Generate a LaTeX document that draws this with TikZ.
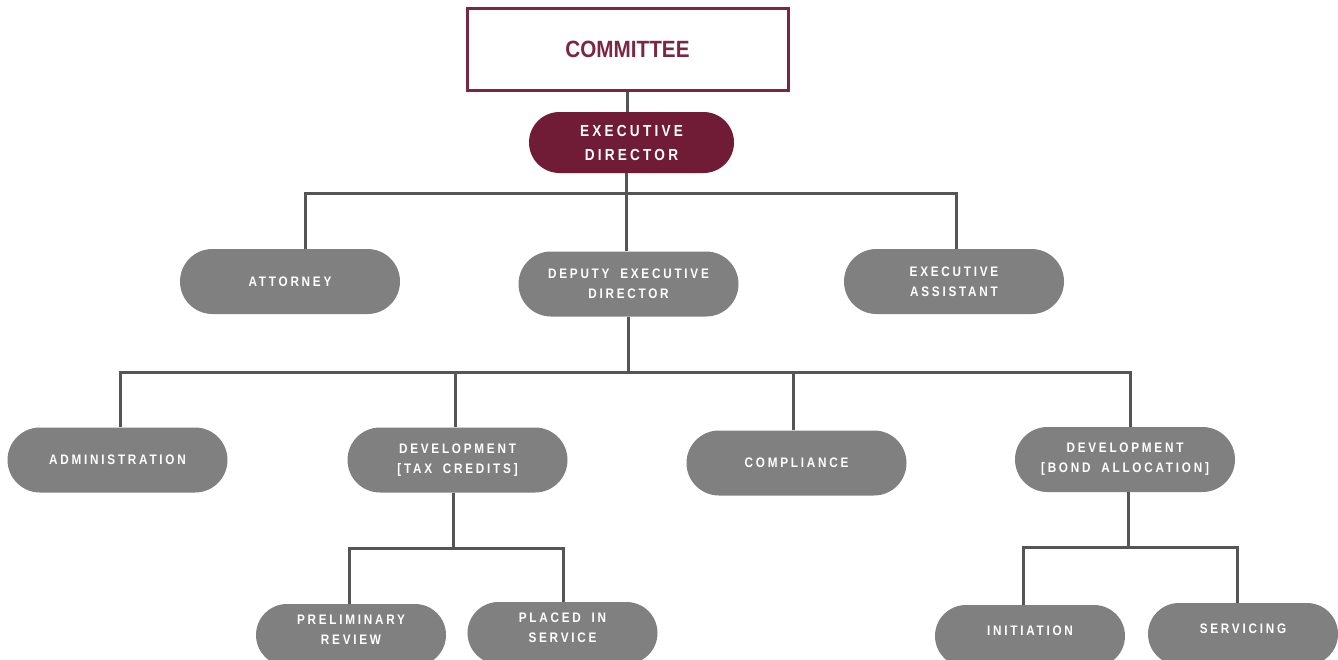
\documentclass[tikz,border=0pt]{standalone}
\usepackage{fontspec}
\usepackage{xcolor}
\usepackage{tikz}
\usetikzlibrary{positioning}
\setmainfont{Liberation Sans}
\newfontfamily\unitfont[LetterSpace=20,FakeStretch=0.85,WordSpace=1.8]{Liberation Sans}
\newfontfamily\boardfont[FakeStretch=0.88]{Liberation Sans}
\definecolor{maroon}{HTML}{701C36}
\definecolor{maroonline}{HTML}{7B2741}
\definecolor{unitgray}{HTML}{808080}
\definecolor{linkgray}{HTML}{555555}

\begin{document}
\begin{tikzpicture}[x=1pt,y=-1pt,
  board/.style={draw=maroonline, line width=3pt, fill=white, minimum width=321, minimum height=82,
    font=\boardfont\bfseries\fontsize{23.5}{26}\selectfont, text=maroonline},
  head/.style={fill=maroon, rounded corners=30.5, minimum width=205, minimum height=61,
    align=center, text=white, font=\unitfont\bfseries\fontsize{16}{24}\selectfont},
  unit/.style={fill=unitgray, rounded corners=32.5, minimum width=220, minimum height=65,
    align=center, text=white, font=\unitfont\bfseries\fontsize{13.8}{20}\selectfont},
  sub/.style={unit, rounded corners=31, minimum width=190, minimum height=62, text depth=11pt},
  link/.style={draw=linkgray, line width=3pt}]
\useasboundingbox (0,0) rectangle (1338,659);
\clip (0,0) rectangle (1338,659);

% Committee and director
\node[board] (com) at (627.5,49) {COMMITTEE};
\node[head] (ed) at (631.5,142.5) {EXECUTIVE\\DIRECTOR};

% Second row
\node[unit] (att) at (290,281.5) {ATTORNEY};
\node[unit] (ded) at (628.5,284) {DEPUTY EXECUTIVE\\DIRECTOR};
\node[unit] (ea) at (954,281.5) {EXECUTIVE\\ASSISTANT};

% Departments
\node[unit] (adm) at (117.5,460) {ADMINISTRATION};
\node[unit] (dtc) at (457.5,460) {DEVELOPMENT\\{[TAX CREDITS]}};
\node[unit] (cmp) at (796.5,463) {COMPLIANCE};
\node[unit] (dba) at (1125,459.5) {DEVELOPMENT\\{[BOND ALLOCATION]}};

% Sections
\node[sub] (pre) at (351,635) {PRELIMINARY\\REVIEW};
\node[sub] (pis) at (562.5,633) {PLACED IN\\SERVICE};
\node[sub] (ini) at (1030,636) {INITIATION};
\node[sub] (ser) at (1243,634) {SERVICING};

% Junctions
\coordinate (j1) at (626,193);
\coordinate (j2) at (628,372);
\coordinate (j3) at (453,548);
\coordinate (j4) at (1128,547);
\coordinate (att-t) at ([xshift=15]att.north);
\coordinate (ea-t) at ([xshift=2]ea.north);
\coordinate (adm-t) at ([xshift=2.5]adm.north);
\coordinate (dtc-t) at ([xshift=-2.5]dtc.north);
\coordinate (cmp-t) at ([xshift=-3.5]cmp.north);
\coordinate (dba-t) at ([xshift=5]dba.north);
\coordinate (pre-t) at ([xshift=-2]pre.north);
\coordinate (pis-t) at ([xshift=0.5]pis.north);
\coordinate (ini-t) at ([xshift=-7]ini.north);
\coordinate (ser-t) at ([xshift=-6]ser.north);

% Connectors
\draw[link] (com.south) -- (com.south |- ed.north);
\draw[link] (ed.south -| j1) -- (j1);
\draw[link] (att-t) |- (j1) -| (ea-t);
\draw[link] (j1) -- (ded.north -| j1);

\draw[link] (ded.south -| j2) -- (j2);
\draw[link] (adm-t) |- (j2) -| (dba-t);
\draw[link] (dtc-t) |- (j2);
\draw[link] (cmp-t) |- (j2);

\draw[link] (dtc.south -| j3) -- (j3);
\draw[link] (pre-t) |- (j3) -| (pis-t);

\draw[link] (dba.south -| j4) -- (j4);
\draw[link] (ini-t) |- (j4) -| (ser-t);
\end{tikzpicture}
\end{document}
